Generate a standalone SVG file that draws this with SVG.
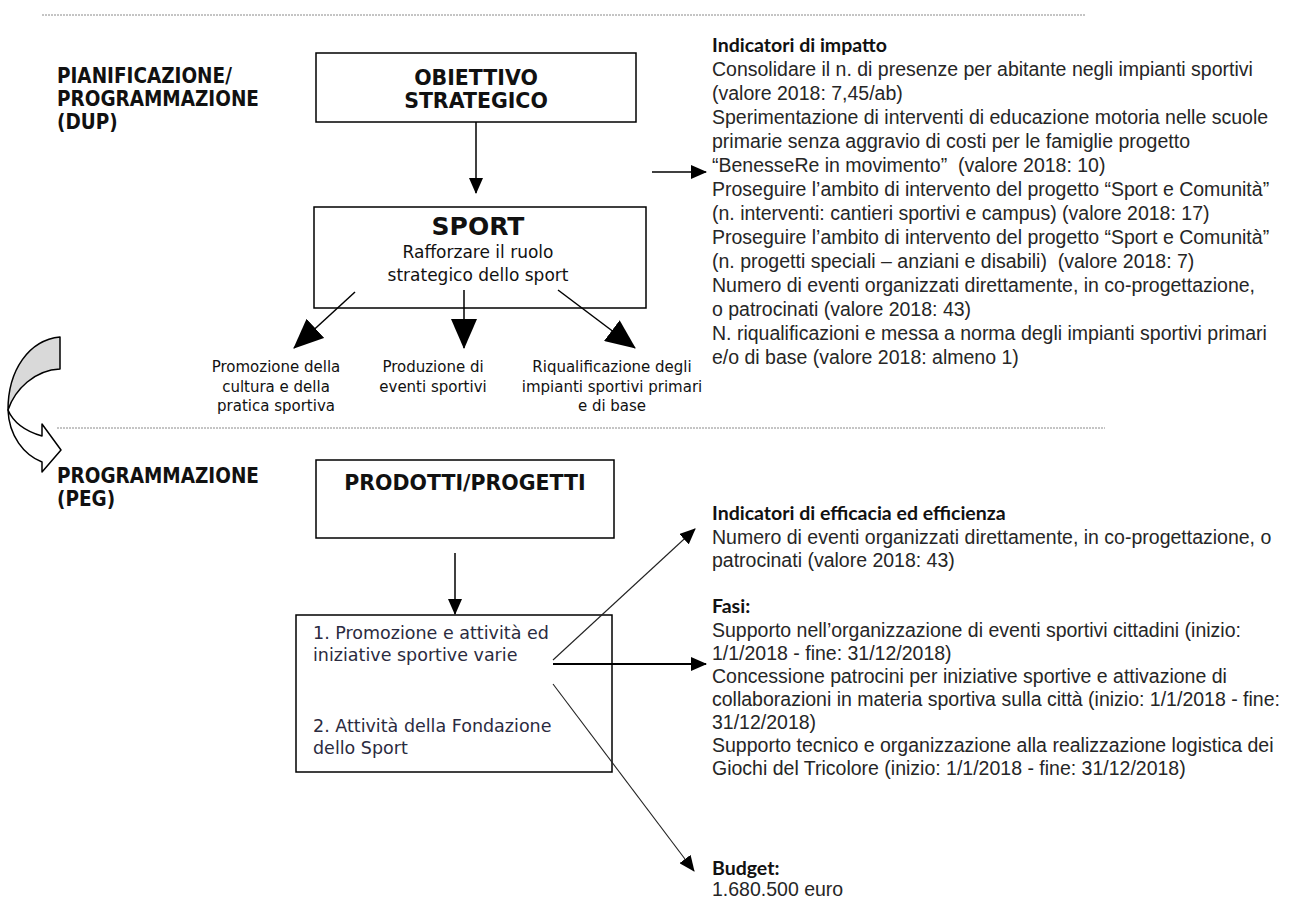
<svg xmlns="http://www.w3.org/2000/svg" width="1290" height="898" viewBox="0 0 1290 898">
<style>
.bg{fill:#fff}
.dot{stroke:#8a8a8a;stroke-width:1;stroke-dasharray:2 1;fill:none}
.box{fill:#fff;stroke:#000;stroke-width:1.5}
.lbl{font-family:"DejaVu Sans Condensed","DejaVu Sans",sans-serif;font-weight:bold;font-size:20.5px;fill:#111}
.hd{font-family:"DejaVu Sans",sans-serif;font-weight:bold;font-size:20.5px;fill:#111;text-anchor:middle}
.sp{font-family:"DejaVu Sans",sans-serif;font-size:17px;fill:#111;text-anchor:middle}
.sm{font-family:"DejaVu Sans",sans-serif;font-size:15px;fill:#111;text-anchor:middle}
.pj{font-family:"DejaVu Sans",sans-serif;font-size:17.5px;fill:#2b2b40}
.tx{font-family:"Liberation Sans",Arial,sans-serif;font-size:19.5px;fill:#262626}
.th{font-family:Lato,"Liberation Sans",sans-serif;font-weight:bold;font-size:19.5px;fill:#111}
.ln{stroke:#000;stroke-width:1.5;fill:none}
.lt{stroke:#222;stroke-width:1.1;fill:none}
</style>
<defs>
<marker id="big" markerUnits="userSpaceOnUse" viewBox="0 0 30 26" markerWidth="30" markerHeight="26" refX="29" refY="13" orient="auto"><path d="M0,0 L30,13 L0,26 Z" fill="#000"/></marker>
<marker id="sml" markerUnits="userSpaceOnUse" viewBox="0 0 16 14" markerWidth="16" markerHeight="14" refX="15" refY="7" orient="auto"><path d="M0,0 L16,7 L0,14 Z" fill="#000"/></marker>
</defs>
<rect class="bg" x="0" y="0" width="1290" height="898"/>

<g id="separators">
<line class="dot" x1="42" y1="15" x2="1085" y2="15"/>
<line class="dot" x1="57" y1="428" x2="1105" y2="428"/>
</g>

<g id="label-dup">
<text class="lbl" x="57" y="83">PIANIFICAZIONE/</text>
<text class="lbl" x="57" y="106">PROGRAMMAZIONE</text>
<text class="lbl" x="57" y="129">(DUP)</text>
</g>

<g id="node-obiettivo">
<rect class="box" x="316" y="53" width="320" height="69"/>
<text class="hd" x="476" y="85">OBIETTIVO</text>
<text class="hd" x="476" y="108">STRATEGICO</text>
</g>

<g id="node-sport">
<rect class="box" x="314" y="207" width="332" height="101"/>
<text class="hd" x="478" y="235" style="font-size:25px">SPORT</text>
<text class="sp" x="478" y="258">Rafforzare il ruolo</text>
<text class="sp" x="478" y="281">strategico dello sport</text>
</g>

<g id="node-promozione">
<text class="sm" x="276" y="372">Promozione della</text>
<text class="sm" x="276" y="392">cultura e della</text>
<text class="sm" x="276" y="411">pratica sportiva</text>
</g>
<g id="node-produzione">
<text class="sm" x="433" y="372">Produzione di</text>
<text class="sm" x="433" y="392">eventi sportivi</text>
</g>
<g id="node-riqualificazione">
<text class="sm" x="612" y="372">Riqualificazione degli</text>
<text class="sm" x="612" y="392">impianti sportivi primari</text>
<text class="sm" x="612" y="411">e di base</text>
</g>

<g id="node-indicatori-impatto">
<text class="th" x="712" y="52">Indicatori di impatto</text>
<text class="tx" x="712" y="76">Consolidare il n. di presenze per abitante negli impianti sportivi</text>
<text class="tx" x="712" y="100">(valore 2018: 7,45/ab)</text>
<text class="tx" x="712" y="124">Sperimentazione di interventi di educazione motoria nelle scuole</text>
<text class="tx" x="712" y="148">primarie senza aggravio di costi per le famiglie progetto</text>
<text class="tx" x="712" y="172">“BenesseRe in movimento”&#160; (valore 2018: 10)</text>
<text class="tx" x="712" y="196">Proseguire l’ambito di intervento del progetto “Sport e Comunità”</text>
<text class="tx" x="712" y="220">(n. interventi: cantieri sportivi e campus) (valore 2018: 17)</text>
<text class="tx" x="712" y="244">Proseguire l’ambito di intervento del progetto “Sport e Comunità”</text>
<text class="tx" x="712" y="268">(n. progetti speciali – anziani e disabili)&#160; (valore 2018: 7)</text>
<text class="tx" x="712" y="292">Numero di eventi organizzati direttamente, in co-progettazione,</text>
<text class="tx" x="712" y="316">o patrocinati (valore 2018: 43)</text>
<text class="tx" x="712" y="340">N. riqualificazioni e messa a norma degli impianti sportivi primari</text>
<text class="tx" x="712" y="364">e/o di base (valore 2018: almeno 1)</text>
</g>

<g id="curved-arrow">
<path d="M60,337 C29,340 8,370 8,410 C15,389 35,370 60,369 Z" fill="#d9d9d9" stroke="#000" stroke-width="1.5" stroke-linejoin="round"/>
<path d="M8,410 C9,436 24,455 42,462 L42,472 L61,450 L42,424 L42,436 C28,432 14,424 8,410 Z" fill="#fff" stroke="#000" stroke-width="1.5" stroke-linejoin="round"/>
</g>

<g id="label-peg">
<text class="lbl" x="57" y="483">PROGRAMMAZIONE</text>
<text class="lbl" x="57" y="506">(PEG)</text>
</g>

<g id="node-prodotti">
<rect class="box" x="316" y="460" width="298" height="78"/>
<text class="hd" x="465" y="490">PRODOTTI/PROGETTI</text>
</g>

<g id="node-progetti-list">
<rect class="box" x="296" y="615" width="316" height="157"/>
<text class="pj" x="313" y="639">1. Promozione e attività ed</text>
<text class="pj" x="313" y="661">iniziative sportive varie</text>
<text class="pj" x="313" y="732">2. Attività della Fondazione</text>
<text class="pj" x="313" y="754">dello Sport</text>
</g>

<g id="node-efficacia">
<text class="th" x="712" y="520">Indicatori di efficacia ed efficienza</text>
<text class="tx" x="712" y="544">Numero di eventi organizzati direttamente, in co-progettazione, o</text>
<text class="tx" x="712" y="567">patrocinati (valore 2018: 43)</text>
</g>

<g id="node-fasi">
<text class="th" x="712" y="613">Fasi:</text>
<text class="tx" x="712" y="637">Supporto nell’organizzazione di eventi sportivi cittadini (inizio:</text>
<text class="tx" x="712" y="660">1/1/2018 - fine: 31/12/2018)</text>
<text class="tx" x="712" y="683">Concessione patrocini per iniziative sportive e attivazione di</text>
<text class="tx" x="712" y="706">collaborazioni in materia sportiva sulla città (inizio: 1/1/2018 - fine:</text>
<text class="tx" x="712" y="729">31/12/2018)</text>
<text class="tx" x="712" y="752">Supporto tecnico e organizzazione alla realizzazione logistica dei</text>
<text class="tx" x="712" y="775">Giochi del Tricolore (inizio: 1/1/2018 - fine: 31/12/2018)</text>
</g>

<g id="node-budget">
<text class="th" x="712" y="875">Budget:</text>
<text class="tx" x="712" y="896">1.680.500 euro</text>
</g>

<g id="connectors">
<line class="ln" x1="476" y1="122" x2="476" y2="193" marker-end="url(#sml)"/>
<line class="ln" x1="355" y1="292" x2="294" y2="348" marker-end="url(#big)"/>
<line class="ln" x1="464" y1="290" x2="464" y2="348" marker-end="url(#big)"/>
<line class="ln" x1="558" y1="290" x2="635" y2="348" marker-end="url(#big)"/>
<line class="ln" x1="652" y1="172" x2="706" y2="172" marker-end="url(#sml)"/>
<line class="ln" x1="455" y1="553" x2="455" y2="614" marker-end="url(#sml)"/>
<line class="lt" x1="553" y1="660" x2="695" y2="529" marker-end="url(#sml)"/>
<line class="ln" x1="553" y1="664" x2="706" y2="664" style="stroke-width:2" marker-end="url(#sml)"/>
<line class="lt" x1="553" y1="684" x2="694" y2="871" marker-end="url(#sml)"/>
</g>
</svg>
